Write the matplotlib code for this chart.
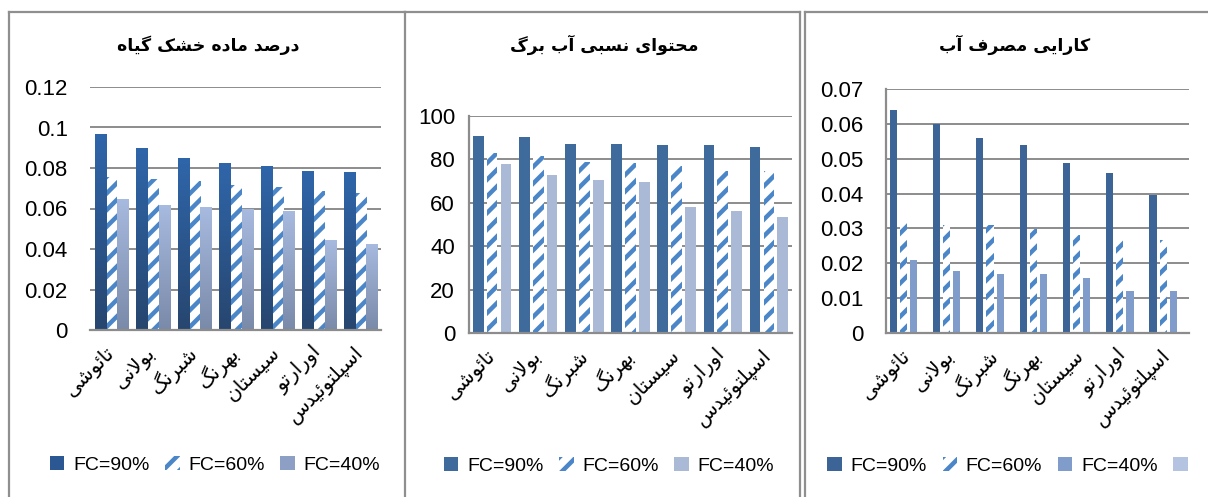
import numpy as np
import matplotlib
matplotlib.use('Agg')
import matplotlib.pyplot as plt
from matplotlib.patches import Patch
from matplotlib.lines import Line2D
from matplotlib.colors import LinearSegmentedColormap

# data
cultivars = ['تائوشی', 'بولانی', 'شبرنگ', 'بهرنگ', 'سیستان', 'اورارتو', 'اسپلتوئیدس']
series_names = ['FC=90%', 'FC=60%', 'FC=40%']

titles = ['درصد ماده خشک گیاه', 'محتوای نسبی آب برگ', 'کارایی مصرف آب']

dry_fc90 = [0.097, 0.090, 0.085, 0.0825, 0.081, 0.0785, 0.078]
dry_fc60 = [0.0755, 0.0746, 0.0734, 0.0716, 0.0706, 0.0686, 0.0675]
dry_fc40 = [0.0647, 0.0617, 0.0607, 0.0598, 0.0588, 0.0446, 0.0425]

rwc_fc90 = [90.6, 90.2, 87.2, 87.2, 86.6, 86.6, 85.7]
rwc_fc60 = [82.9, 81.7, 78.7, 78.3, 76.8, 74.5, 74.5]
rwc_fc40 = [77.9, 72.9, 70.5, 69.4, 58.2, 56.0, 53.3]

wue_fc90 = [0.064, 0.060, 0.056, 0.054, 0.0487, 0.0459, 0.0397]
wue_fc60 = [0.0322, 0.0311, 0.0311, 0.0298, 0.0281, 0.0273, 0.0268]
wue_fc40 = [0.0208, 0.0178, 0.0168, 0.0168, 0.0158, 0.0121, 0.0121]

dry_ticks = [0, 0.02, 0.04, 0.06, 0.08, 0.1, 0.12]
dry_ticklabels = ['0', '0.02', '0.04', '0.06', '0.08', '0.1', '0.12']
rwc_ticks = [0, 20, 40, 60, 80, 100]
rwc_ticklabels = ['0', '20', '40', '60', '80', '100']
wue_ticks = [0, 0.01, 0.02, 0.03, 0.04, 0.05, 0.06, 0.07]
wue_ticklabels = ['0', '0.01', '0.02', '0.03', '0.04', '0.05', '0.06', '0.07']


# matplotlib has no arabic shaping, so pick presentation forms by hand
# (isolated, final, initial, medial)
FORMS = {
    'ا': ('\ufe8d', '\ufe8e', None, None),
    'آ': ('\ufe81', '\ufe82', None, None),
    'ب': ('\ufe8f', '\ufe90', '\ufe91', '\ufe92'),
    'پ': ('\ufb56', '\ufb57', '\ufb58', '\ufb59'),
    'ت': ('\ufe95', '\ufe96', '\ufe97', '\ufe98'),
    'ح': ('\ufea1', '\ufea2', '\ufea3', '\ufea4'),
    'خ': ('\ufea5', '\ufea6', '\ufea7', '\ufea8'),
    'د': ('\ufea9', '\ufeaa', None, None),
    'ر': ('\ufead', '\ufeae', None, None),
    'س': ('\ufeb1', '\ufeb2', '\ufeb3', '\ufeb4'),
    'ش': ('\ufeb5', '\ufeb6', '\ufeb7', '\ufeb8'),
    'ص': ('\ufeb9', '\ufeba', '\ufebb', '\ufebc'),
    'ف': ('\ufed1', '\ufed2', '\ufed3', '\ufed4'),
    'ک': ('\ufb8e', '\ufb8f', '\ufb90', '\ufb91'),
    'گ': ('\ufb92', '\ufb93', '\ufb94', '\ufb95'),
    'ل': ('\ufedd', '\ufede', '\ufedf', '\ufee0'),
    'م': ('\ufee1', '\ufee2', '\ufee3', '\ufee4'),
    'ن': ('\ufee5', '\ufee6', '\ufee7', '\ufee8'),
    'ه': ('\ufee9', '\ufeea', '\ufeeb', '\ufeec'),
    'و': ('\ufeed', '\ufeee', None, None),
    'ئ': ('\ufe89', '\ufe8a', '\ufe8b', '\ufe8c'),
    'ی': ('\ufbfc', '\ufbfd', '\ufbfe', '\ufbff'),
}


def joins_next(c):
    return c in FORMS and FORMS[c][2] is not None


def shape(text):
    out = []
    i = 0
    n = len(text)
    while i < n:
        c = text[i]
        if c not in FORMS:
            out.append(c)
            i += 1
            continue
        after = i > 0 and joins_next(text[i - 1])
        if c == 'ل' and i + 1 < n and text[i + 1] == 'ا':
            out.append('\ufefc' if after else '\ufefb')
            i += 2
            continue
        before = joins_next(c) and i + 1 < n and text[i + 1] in FORMS
        iso, fin, ini, med = FORMS[c]
        if after and before:
            out.append(med)
        elif after:
            out.append(fin)
        elif before:
            out.append(ini)
        else:
            out.append(iso)
        i += 1
    return ''.join(reversed(out))


W, H = 1208, 497
fig = plt.figure(figsize=(W / 100, H / 100), dpi=100)
fig.patch.set_facecolor('white')

num_font = 'Liberation Sans'
grid_col = '#8c8c8c'
hatch_col = '#4a86c8'
plt.rcParams['hatch.linewidth'] = 3.2


def px(x):
    return x / W


def py(y):
    return 1 - y / H


# panel frames
frame_lines = [
    ([9, 9], [12, 497]), ([9, 405], [12, 12]), ([405, 405], [12, 497]),
    ([405, 800], [12, 12]), ([800, 800], [12, 497]),
    ([805, 805], [12, 497]), ([805, 1208], [12, 12]),
]
for xs, ys in frame_lines:
    fig.add_artist(Line2D([px(v) for v in xs], [py(v) for v in ys],
                          transform=fig.transFigure, color='#8f8f8f', lw=1.6))


def setup_axes(rect, ticks, ticklabels, ymax, pad, left_spine):
    ax = fig.add_axes([px(rect[0]), py(rect[3]), px(rect[2] - rect[0]),
                       (rect[3] - rect[1]) / H])
    ax.set_ylim(0, ymax)
    ax.set_xlim(-0.5, len(cultivars) - 0.5)
    ax.set_yticks(ticks)
    ax.set_yticklabels(ticklabels, fontfamily=num_font, fontsize=16)
    ax.tick_params(axis='y', length=0, pad=pad)
    ax.tick_params(axis='x', length=0, pad=14)
    for t in ticks[1:]:
        ax.axhline(t, color=grid_col, lw=1.4, zorder=0)
    for s in ['top', 'right']:
        ax.spines[s].set_visible(False)
    ax.spines['bottom'].set_color(grid_col)
    ax.spines['bottom'].set_linewidth(1.6)
    ax.spines['left'].set_visible(left_spine)
    ax.spines['left'].set_color(grid_col)
    ax.spines['left'].set_linewidth(1.6)
    ax.set_xticks(np.arange(len(cultivars)))
    ax.set_xticklabels([shape(c) for c in cultivars], rotation=45,
                       ha='right', va='center', rotation_mode='anchor',
                       fontfamily='DejaVu Sans', fontsize=14.5)
    return ax


def gradient_fill(ax, bars, top, bottom):
    cmap = LinearSegmentedColormap.from_list('g', [bottom, top])
    grad = np.linspace(0, 1, 100).reshape(-1, 1)
    for b in bars:
        x0, y0 = b.get_x(), b.get_y()
        im = ax.imshow(grad, extent=[x0, x0 + b.get_width(), y0, y0 + b.get_height()],
                       origin='lower', aspect='auto', cmap=cmap, zorder=2)
        im.set_clip_path(b)


def add_title(text, xc):
    fig.text(px(xc), py(45), shape(text), ha='center', va='center',
             fontfamily='DejaVu Sans', fontweight='bold', fontsize=12.5)


leg_kw = dict(loc='center', frameon=False, prop={'family': num_font, 'size': 14},
              handlelength=0.75, handleheight=0.75, handletextpad=0.45,
              columnspacing=0.8)

x = np.arange(len(cultivars))

# panel 1: dry matter
ax1 = setup_axes((90, 87, 381, 330), dry_ticks, dry_ticklabels, 0.12, 16, False)
w = 0.28
b1 = ax1.bar(x - 0.25, dry_fc90, w, color='#2d5f9e', zorder=2)
b2 = ax1.bar(x + 0.02, dry_fc60, w, color='white', edgecolor=hatch_col,
             hatch='//', lw=0, zorder=2)
b3 = ax1.bar(x + 0.29, dry_fc40, w, color='#93a6cc', zorder=2)
gradient_fill(ax1, b1, '#2f66aa', '#27466f')
gradient_fill(ax1, b3, '#a7badf', '#7a8aa9')
ax1.set_xlim(-0.5, len(cultivars) - 0.5)
ax1.set_ylim(0, 0.12)
add_title(titles[0], 208)
h1 = [Patch(facecolor='#2b5792'), Patch(facecolor='white', edgecolor=hatch_col, hatch='//', lw=0),
      Patch(facecolor='#8d9fc4')]
fig.legend(h1, series_names, bbox_to_anchor=(px(215), py(465)), ncol=3, **leg_kw)

# panel 2: relative water content
ax2 = setup_axes((469, 116, 792, 333), rwc_ticks, rwc_ticklabels, 100, 10, True)
w = 0.23
ax2.bar(x - 0.3, rwc_fc90, w, color='#3f6a9c', zorder=2)
ax2.bar(x, rwc_fc60, w, color='white', edgecolor=hatch_col, hatch='//', lw=0, zorder=2)
ax2.bar(x + 0.3, rwc_fc40, w, color='#aab9d6', zorder=2)
add_title(titles[1], 604)
h2 = [Patch(facecolor='#3f6a9c'), Patch(facecolor='white', edgecolor=hatch_col, hatch='//', lw=0),
      Patch(facecolor='#aab9d6')]
fig.legend(h2, series_names, bbox_to_anchor=(px(609), py(466)), ncol=3, **leg_kw)

# panel 3: water use efficiency
ax3 = setup_axes((886, 89, 1189, 333), wue_ticks, wue_ticklabels, 0.07, 16, True)
w = 0.165
step = 0.235
ax3.bar(x - 1.5 * step + 0.02, wue_fc90, w, color='#3d6496', zorder=2)
ax3.bar(x - 0.5 * step + 0.02, wue_fc60, w, color='white', edgecolor=hatch_col,
        hatch='//', lw=0, zorder=2)
ax3.bar(x + 0.5 * step + 0.02, wue_fc40, w, color='#7f9ccb', zorder=2)
add_title(titles[2], 1015)
h3 = [Patch(facecolor='#3d6496'), Patch(facecolor='white', edgecolor=hatch_col, hatch='//', lw=0),
      Patch(facecolor='#7f9ccb'), Patch(facecolor='#b4c3df')]
fig.legend(h3, series_names + [''], bbox_to_anchor=(px(1012), py(466)), ncol=4, **leg_kw)

fig.savefig('out.png', dpi=100)
